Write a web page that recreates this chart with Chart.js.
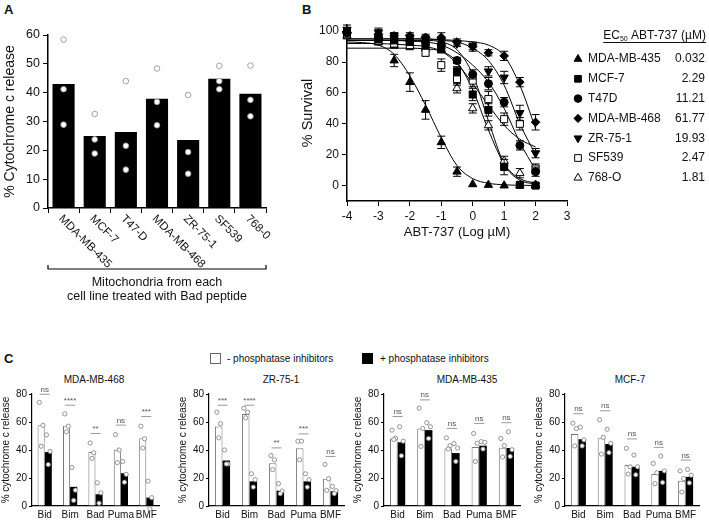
<!DOCTYPE html>
<html><head><meta charset="utf-8">
<script src="https://cdn.jsdelivr.net/npm/chart.js@4.4.1/dist/chart.umd.min.js"></script>
<style>
html,body{margin:0;padding:0;background:#fff;}
#wrap{position:relative;width:709px;height:520px;overflow:hidden;background:#fff;font-family:"Liberation Sans",Arial,Helvetica,sans-serif;color:#111;}
canvas{position:absolute;left:0;top:0;}
.t{position:absolute;white-space:nowrap;line-height:1;}
.pl{font-weight:bold;font-size:13px;}
.box{position:absolute;width:9px;height:9px;border:1px solid #666;}
</style></head><body><div id="wrap">
<div class="t pl" style="left:4px;top:3px;">A</div>
<div class="t pl" style="left:302px;top:3px;">B</div>
<div class="t pl" style="left:4px;top:352px;">C</div>
<div class="box" style="left:210px;top:353px;background:#fff;"></div>
<div class="t" style="left:227px;top:354px;font-size:10px;">- phosphatase inhibitors</div>
<div class="box" style="left:362px;top:353px;background:#000;border-color:#000;"></div>
<div class="t" style="left:380px;top:354px;font-size:10px;">+ phosphatase inhibitors</div>
<div class="t" id="tc1" style="left:94px;top:375px;font-size:10px;transform:translateX(-50%);">MDA-MB-468</div>
<div class="t" id="tc2" style="left:281px;top:375px;font-size:10px;transform:translateX(-50%);">ZR-75-1</div>
<div class="t" id="tc3" style="left:467px;top:375px;font-size:10px;transform:translateX(-50%);">MDA-MB-435</div>
<div class="t" id="tc4" style="left:630px;top:375px;font-size:10px;transform:translateX(-50%);">MCF-7</div>
</div>
<script>
// ---------------- Panel A data ----------------
const cellLinesA = ['MDA-MB-435','MCF-7','T47-D','MDA-MB-468','ZR-75-1','SF539','768-0'];
const meanA = [43.0, 25.0, 26.4, 37.9, 23.6, 44.8, 39.6];
const repsA = [[58.4,41.2,28.9],[32.6,23.8,18.9],[44.0,21.6,13.3],[48.4,36.8,28.7],[39.2,19.4,11.9],[49.3,44.0,41.2],[49.4,37.5,31.8]];
const captionA = ['Mitochondria from each','cell line treated with Bad peptide'];

// ---------------- Panel B data ----------------
const doseLog = [-4,-3,-2.5,-2,-1.5,-1,-0.5,0,0.5,1,1.5,2];
const survMDA435 = [100,96,81,67,49,28,9,0.8,0.4,0,0,0];
const errMDA435  = [2,2,4,6,6,4,3,0,0,0,0,0];
const survMCF7   = [100,95,94,93,91,89,74,59,49,12,0.5,0];
const errMCF7    = [2,2,2,2,2,3,3,4,4,5,1,1];
const survT47D   = [99,96,95,94,93,91,81,72,66,54,26,9];
const errT47D    = [2,2,2,2,2,2,2,3,4,3,3,3];
const survMDA468 = [99,98,97,97,96,96,93,90,86,84,67,41];
const errMDA468  = [2,3,2,2,2,3,2,3,2,3,3,5];
const survZR751  = [101,99,97,96,95,94,92,90,74,70,47,21];
const errZR751   = [3,3,2,2,2,2,2,2,3,4,5,3];
const survSF539  = [98,94,92,91,86,78,69,68,56,43,40,11];
const errSF539   = [2,2,2,2,2,4,4,4,5,4,4,3];
const surv768O   = [97,93,91,90,89,88,63,50,39,16,8,0.5];
const err768O    = [2,2,2,2,2,2,3,3,3,3,3,1];

const fitX       = [-4,-3.5,-3,-2.5,-2,-1.5,-1,-0.5,0,0.5,1,1.5,2];
const fitMDA435  = [93,92.6,91,85,71,52,31,13,4.5,1.5,0.5,0.2,0];
const fitMCF7    = [94,94,94,94,94,94,93,88,72,42,14,3.5,1];
const fitT47D    = [94,94,94,94,93.5,93,91,86,78,67,50,28,10];
const fitMDA468  = [95,95,95,95,95,95,94.5,94,93,91,84,65,37];
const fitZR751   = [95,95,95,95,95,95,94,93,89,81,65,40,20];
const fitSF539   = [92,92,92,91.5,91,90,87,79,66,52,39,30,25];
const fit768O    = [89,89,89,89,89,88.5,87,80,62,36,14,4.5,1.5];

const namesB = ['MDA-MB-435','MCF-7','T47D','MDA-MB-468','ZR-75-1','SF539','768-O'];
const ec50B  = ['0.032','2.29','11.21','61.77','19.93','2.47','1.81'];
const yTicksB = [0,20,40,60,80,100];

// ---------------- Panel C data ----------------
const peptides = ['Bid','Bim','Bad','Puma','BMF'];
const legendC = ['- phosphatase inhibitors','+ phosphatase inhibitors'];

const mda468Minus = [57.6,57.3,38.6,40.2,48.4];
const mda468Plus  = [38.5,13.7,8.4,23.4,6.0];
const mda468MinusReps = [[74,57.6,42.7],[65.8,57,53],[45,38,34],[51,40,31],[57,48,41.4]];
const mda468PlusReps  = [[50.8,39,29.6],[27.5,11.3,4],[16.6,9.4,2],[31.8,22.6,17],[17.8,6,-2]];
const mda468Sig  = ['ns','****','**','ns','***'];
const mda468SigY = [79.8,72,51.8,57.8,63.9];

const zr751Minus = [56.8,65.8,30.6,41.3,19.5];
const zr751Plus  = [32.5,17.6,10.9,17.6,10.5];
const zr751MinusReps = [[67,58.7,48.7],[69.8,67,63],[36,33,26],[46.3,46.3,33],[29.7,19.5,11.2]];
const zr751PlusReps  = [[40,30,30],[23,18.8,13.5],[16,10.7,8.8],[23,18.8,13.5],[14,11,8.8]];
const zr751Sig  = ['***','****','**','***','ns'];
const zr751SigY = [72,72,41.5,51.5,35.4];

const mda435Minus = [48.2,55.4,41.0,42.2,41.2];
const mda435Plus  = [45.5,54.2,37.8,43.1,41.4];
const mda435MinusReps = [[54.2,48.4,47.5],[69.9,55.4,42.6],[48.7,43.1,40.7],[51.8,44.8,31.8],[48.2,43.1,35]];
const mda435PlusReps  = [[56.6,46.3,35.9],[59.5,56.6,48.2],[44.6,41.4,31.8],[46,45.5,40.7],[53,40.2,35.4]];
const mda435Sig  = ['ns','ns','ns','ns','ns'];
const mda435SigY = [63.9,75.8,55.4,59,59.5];

const mcf7Minus = [51.5,48.4,29.2,22.8,18.0];
const mcf7Plus  = [47.7,44.3,28.0,25.1,20.8];
const mcf7MinusReps = [[59.2,55.3,42.9],[61.6,49.1,37.1],[41.2,28,22.8],[30.4,23.7,16],[25.1,19.6,10]];
const mcf7PlusReps  = [[56.3,47.2,42.9],[54.8,44.8,38.1],[36.4,28,22.3],[35.7,25.1,16.8],[26.1,22,16.5]];
const mcf7Sig  = ['ns','ns','ns','ns','ns'];
const mcf7SigY = [65.9,68,47.9,41.9,32.8];

// ---------------- helpers ----------------
Chart.defaults.font.family = '"Liberation Sans", Arial, Helvetica, sans-serif';
Chart.defaults.color = '#111';
const W = 709, H = 520;
function mk(rect, yW, xH, cfg){
  const c = document.createElement('canvas');
  c.width = W; c.height = H; c.style.width = W+'px'; c.style.height = H+'px';
  document.getElementById('wrap').appendChild(c);
  cfg.options = cfg.options || {};
  Object.assign(cfg.options, {responsive:false, animation:false, devicePixelRatio:1, events:[]});
  cfg.options.layout = {padding:{left:rect.l - yW, top:rect.t, right:W - rect.r, bottom:H - rect.b - xH}};
  cfg.options.plugins = Object.assign({legend:{display:false}, tooltip:{enabled:false}, title:{display:false}}, cfg.options.plugins||{});
  cfg.options.scales.x.afterFit = s => { s.height = xH; };
  cfg.options.scales.y.afterFit = s => { s.width = yW; };
  return new Chart(c, cfg);
}
function dot(ctx, x, y, r, stroke){
  ctx.beginPath(); ctx.arc(x, y, r, 0, Math.PI*2);
  ctx.fillStyle = '#fff'; ctx.fill();
  ctx.strokeStyle = stroke; ctx.lineWidth = 0.9; ctx.stroke();
}
function marker(ctx, style, r, rot, fill, x, y){
  const o = {pointStyle:style, radius:r, rotation:rot, borderWidth:1};
  ctx.save();
  ctx.fillStyle = fill; ctx.strokeStyle = '#000'; ctx.lineWidth = 1;
  if (Chart.helpers && Chart.helpers.drawPoint) { Chart.helpers.drawPoint(ctx, o, x, y); }
  else { ctx.beginPath(); ctx.arc(x,y,r,0,Math.PI*2); ctx.fill(); ctx.stroke(); }
  ctx.restore();
}

// ---------------- Panel A ----------------
mk({l:48, r:266, t:35, b:208}, 46, 20, {
  type:'bar',
  data:{labels:cellLinesA, datasets:[{data:meanA, backgroundColor:'#000', borderWidth:0, barPercentage:0.71, categoryPercentage:1}]},
  options:{scales:{
    x:{grid:{display:true, drawOnChartArea:false, drawTicks:true, tickLength:5, color:'#000', lineWidth:1, offset:true},
       border:{display:true, color:'#000', width:1.5}, ticks:{display:false}},
    y:{min:0, max:60, ticks:{stepSize:10, font:{size:12.5}, color:'#111', padding:3},
       grid:{drawOnChartArea:false, drawTicks:true, tickLength:5, color:'#000'},
       border:{display:true, color:'#000', width:1.5},
       title:{display:true, text:'% Cytochrome c release', font:{size:14}, color:'#111', padding:0}}
  }},
  plugins:[{id:'aExtras',
    afterDatasetsDraw(chart){
      const ctx = chart.ctx, y = chart.scales.y, meta = chart.getDatasetMeta(0);
      meta.data.forEach((bar,i)=>{ repsA[i].forEach(v=>dot(ctx, bar.x, y.getPixelForValue(v), 2.8, '#999')); });
    },
    afterDraw(chart){
      const ctx = chart.ctx, xs = chart.scales.x;
      ctx.save();
      ctx.font = '11.5px "Liberation Sans", Arial'; ctx.fillStyle = '#111';
      ctx.textAlign = 'left'; ctx.textBaseline = 'middle';
      cellLinesA.forEach((l,i)=>{
        const px = xs.getPixelForValue(i);
        ctx.save(); ctx.translate(px - 3, xs.top + 9); ctx.rotate(Math.PI/4); ctx.fillText(l, 0, 0); ctx.restore();
      });
      const by = 269;
      ctx.beginPath(); ctx.moveTo(xs.left, by-4); ctx.lineTo(xs.left, by); ctx.lineTo(xs.right, by); ctx.lineTo(xs.right, by-4);
      ctx.strokeStyle = '#000'; ctx.lineWidth = 1.2; ctx.stroke();
      ctx.textAlign = 'center'; ctx.font = '12.5px "Liberation Sans", Arial';
      const cx = (xs.left + xs.right)/2;
      ctx.fillText(captionA[0], cx, 283);
      ctx.fillText(captionA[1], cx, 297);
      ctx.restore();
    }
  }]
});

// ---------------- Panel B ----------------
const seriesB = [
  {surv:survMDA435, err:errMDA435, fit:fitMDA435, style:'triangle', rot:0,   fill:'#000', r:4.8},
  {surv:survMCF7,   err:errMCF7,   fit:fitMCF7,   style:'rect',     rot:0,   fill:'#000', r:5},
  {surv:survT47D,   err:errT47D,   fit:fitT47D,   style:'circle',   rot:0,   fill:'#000', r:4},
  {surv:survMDA468, err:errMDA468, fit:fitMDA468, style:'rectRot',  rot:0,   fill:'#000', r:4.3},
  {surv:survZR751,  err:errZR751,  fit:fitZR751,  style:'triangle', rot:180, fill:'#000', r:4.8},
  {surv:survSF539,  err:errSF539,  fit:fitSF539,  style:'rect',     rot:0,   fill:'#fff', r:5},
  {surv:surv768O,   err:err768O,   fit:fit768O,   style:'triangle', rot:0,   fill:'#fff', r:4.8}
];
const dsB = [];
seriesB.forEach(s=>{
  dsB.push({data:doseLog.map((x,i)=>({x:x, y:s.surv[i]})), showLine:false, pointStyle:s.style, rotation:s.rot,
    pointRadius:s.r, backgroundColor:s.fill, borderColor:'#000', borderWidth:1, clip:false});
});
seriesB.forEach(s=>{
  dsB.push({data:fitX.map((x,i)=>({x:x, y:s.fit[i]})), showLine:true, pointRadius:0, borderColor:'#000',
    borderWidth:1, cubicInterpolationMode:'monotone', fill:false, clip:false});
});
mk({l:347, r:567, t:25, b:201}, 48, 39, {
  type:'scatter',
  data:{datasets:dsB},
  options:{scales:{
    x:{type:'linear', min:-4, max:3, ticks:{stepSize:1, font:{size:12}, color:'#111', padding:3},
       grid:{display:true, drawOnChartArea:false, drawTicks:true, tickLength:5, color:'#000'},
       border:{display:true, color:'#000', width:1.5},
       title:{display:true, text:'ABT-737 (Log µM)', font:{size:13}, color:'#111', padding:0}},
    y:{type:'linear', min:-10, max:104,
       afterBuildTicks: s => { s.ticks = yTicksB.map(v=>({value:v})); },
       ticks:{font:{size:12}, color:'#111', padding:3},
       grid:{display:true, drawOnChartArea:false, drawTicks:true, tickLength:5, color:'#000'},
       border:{display:true, color:'#000', width:1.5},
       title:{display:true, text:'% Survival', font:{size:14.5}, color:'#111', padding:0}}
  }},
  plugins:[{id:'bExtras',
    beforeDatasetDraw(chart, args){
      if (args.index >= seriesB.length) return;
      const s = seriesB[args.index], ctx = chart.ctx, xs = chart.scales.x, ys = chart.scales.y;
      ctx.save(); ctx.strokeStyle = '#000'; ctx.lineWidth = 1;
      doseLog.forEach((x,i)=>{
        const e = s.err[i]; if (!e) return;
        const px = xs.getPixelForValue(x), y1 = ys.getPixelForValue(s.surv[i]+e), y2 = ys.getPixelForValue(s.surv[i]-e);
        ctx.beginPath(); ctx.moveTo(px, y1); ctx.lineTo(px, y2);
        ctx.moveTo(px-4, y1); ctx.lineTo(px+4, y1); ctx.moveTo(px-4, y2); ctx.lineTo(px+4, y2); ctx.stroke();
      });
      ctx.restore();
    },
    afterDraw(chart){
      const ctx = chart.ctx;
      ctx.save(); ctx.fillStyle = '#111'; ctx.textBaseline = 'alphabetic';
      const right = 706, hy = 39;
      ctx.font = '12px "Liberation Sans", Arial';
      const w1 = ctx.measureText('EC').width;
      const w3 = ctx.measureText(' ABT-737 (µM)').width;
      ctx.font = '7px "Liberation Sans", Arial';
      const w2 = ctx.measureText('50').width;
      const x0 = right - (w1+w2+w3);
      ctx.font = '12px "Liberation Sans", Arial'; ctx.textAlign = 'left';
      ctx.fillText('EC', x0, hy);
      ctx.font = '7px "Liberation Sans", Arial'; ctx.fillText('50', x0 + w1, hy + 2);
      ctx.font = '12px "Liberation Sans", Arial'; ctx.fillText(' ABT-737 (µM)', x0 + w1 + w2, hy);
      ctx.beginPath(); ctx.moveTo(x0, hy+3.5); ctx.lineTo(right, hy+3.5); ctx.strokeStyle = '#111'; ctx.lineWidth = 1; ctx.stroke();
      ctx.textBaseline = 'middle';
      namesB.forEach((n,i)=>{
        const y = 59 + i*19.8, s = seriesB[i];
        marker(ctx, s.style, s.r*0.95, s.rot, s.fill, 578, y);
        ctx.fillStyle = '#111'; ctx.font = '12px "Liberation Sans", Arial';
        ctx.textAlign = 'left'; ctx.fillText(n, 588, y);
        ctx.textAlign = 'right'; ctx.fillText(ec50B[i], 705, y);
      });
      ctx.restore();
    }
  }]
});

// ---------------- Panel C ----------------
function panelC(rect, yW, minus, plus, minusReps, plusReps, sig, sigY){
  mk(rect, yW, 14, {
    type:'bar',
    data:{labels:peptides, datasets:[
      {label:legendC[0], data:minus, backgroundColor:'#fff', borderColor:'#777', borderWidth:1, borderSkipped:'start', categoryPercentage:0.56, barPercentage:1},
      {label:legendC[1], data:plus, backgroundColor:'#000', borderColor:'#000', borderWidth:0, categoryPercentage:0.56, barPercentage:1}
    ]},
    options:{scales:{
      x:{grid:{display:false, drawTicks:false, tickLength:0}, border:{display:true, color:'#000', width:1.2},
         ticks:{font:{size:10}, color:'#111', padding:3, maxRotation:0, minRotation:0, autoSkip:false}},
      y:{min:0, max:80, ticks:{stepSize:20, font:{size:10}, color:'#111', padding:2},
         grid:{display:true, drawOnChartArea:false, drawTicks:true, tickLength:3, color:'#000'},
         border:{display:true, color:'#000', width:1.2},
         title:{display:true, text:'% cytochrome c release', font:{size:10}, color:'#111', padding:0}}
    }},
    plugins:[{id:'cExtras',
      afterDatasetsDraw(chart){
        const ctx = chart.ctx, ys = chart.scales.y, xs = chart.scales.x;
        const jit = [-1.8, 1.8, 0];
        [minusReps, plusReps].forEach((reps, d)=>{
          chart.getDatasetMeta(d).data.forEach((bar,i)=>{
            reps[i].forEach((v,k)=> dot(ctx, bar.x + jit[k], ys.getPixelForValue(v), 2.1, '#888'));
          });
        });
        ctx.save();
        sig.forEach((s,i)=>{
          const px = xs.getPixelForValue(i), py = ys.getPixelForValue(sigY[i]);
          ctx.beginPath(); ctx.moveTo(px-5, py); ctx.lineTo(px+5, py); ctx.strokeStyle = '#999'; ctx.lineWidth = 1; ctx.stroke();
          ctx.fillStyle = '#555'; ctx.font = '8px "Liberation Sans", Arial'; ctx.textAlign = 'center'; ctx.textBaseline = 'alphabetic';
          ctx.fillText(s, px, py - 2.5);
        });
        ctx.restore();
      }
    }]
  });
}
panelC({l:32, r:159, t:394, b:506}, 32, mda468Minus, mda468Plus, mda468MinusReps, mda468PlusReps, mda468Sig, mda468SigY);
panelC({l:209, r:344, t:394, b:506}, 32, zr751Minus, zr751Plus, zr751MinusReps, zr751PlusReps, zr751Sig, zr751SigY);
panelC({l:384, r:520, t:394, b:506}, 32, mda435Minus, mda435Plus, mda435MinusReps, mda435PlusReps, mda435Sig, mda435SigY);
panelC({l:565, r:699, t:394, b:506}, 32, mcf7Minus, mcf7Plus, mcf7MinusReps, mcf7PlusReps, mcf7Sig, mcf7SigY);
</script></body></html>
